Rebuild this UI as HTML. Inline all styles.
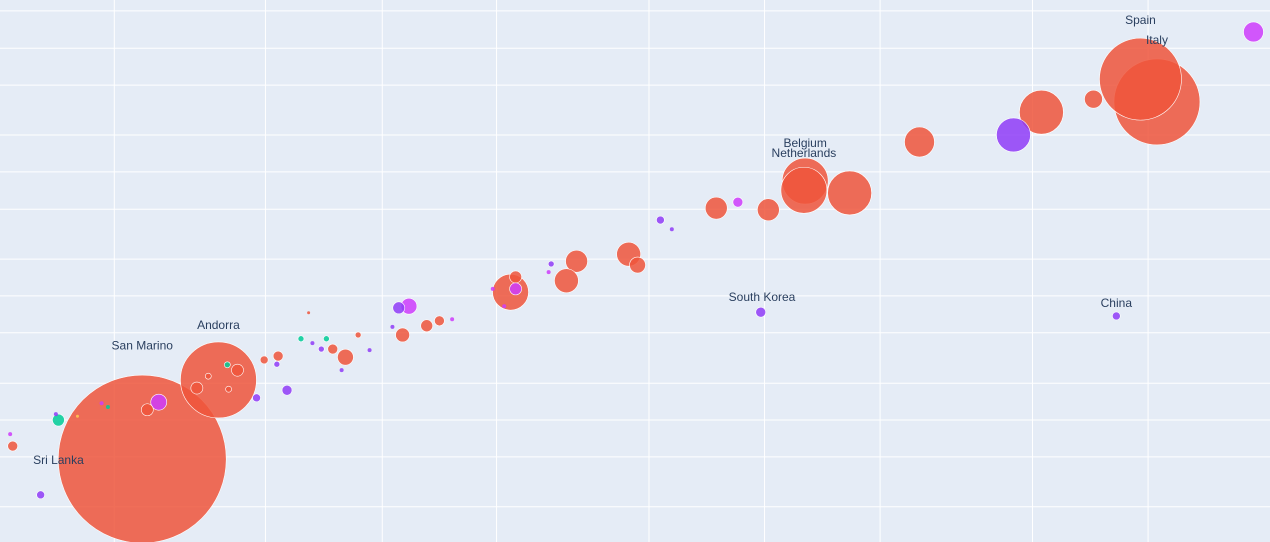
<!DOCTYPE html>
<html><head><meta charset="utf-8">
<style>
html,body{margin:0;padding:0;background:#e5ecf6;overflow:hidden}
svg{display:block}
text{font-family:"Liberation Sans",sans-serif;font-size:12px;fill:#2a3f5f}
</style></head>
<body>
<svg id="chart" width="1270" height="542" xmlns="http://www.w3.org/2000/svg">
<rect x="0" y="0" width="1270" height="542" fill="#e5ecf6"/>
<g id="grid"></g>
<g id="marks"></g>
<g id="labels"></g>
</svg>
<script>
// data on a 0-100 horizontal scale and 0-100 vertical scale
const xGrid = [9.0, 20.9, 30.1, 39.1, 51.1, 60.2, 69.3, 81.3, 90.4];
const yGrid = [2.0, 8.9, 15.7, 24.9, 31.7, 38.6, 47.8, 54.6, 61.4, 70.7, 77.5, 84.3, 93.5];
const xs = [11.2,17.2,91.1,89.8,63.4,63.3,66.9,82.0,72.4,79.8,86.1,98.7,40.2,45.4,44.6,49.5,50.2,56.4,60.5,40.6,40.6,58.1,52.0,52.9,59.9,87.9,32.2,31.4,31.7,33.6,34.6,27.2,26.2,28.2,21.9,20.8,21.8,22.6,20.2,18.7,17.9,15.5,18.0,16.4,12.5,11.6,4.6,1.0,3.2,0.8,4.4,8.0,8.5,23.7,25.7,24.6,25.3,26.9,29.1,30.9,35.6,39.7,43.2,43.4,38.8,24.3,6.1];
const ys = [84.7,70.1,18.8,14.6,33.4,35.1,35.6,20.7,26.2,24.9,18.3,5.9,53.9,48.2,51.8,46.9,48.9,38.4,38.7,51.1,53.3,37.3,40.6,42.3,57.6,58.3,56.5,56.8,61.8,60.1,59.2,65.9,64.4,61.8,65.7,66.4,67.2,72.0,73.4,68.3,67.3,71.6,71.8,69.4,74.2,75.6,77.5,82.3,91.3,80.1,76.4,74.4,75.1,62.5,62.5,63.3,64.4,68.3,64.6,60.3,58.9,56.5,50.2,48.7,53.3,57.7,76.8];
const sizes = [84,38,43,41,23,23,22,22,15,17,9,10,18,11,12,12,8,11,11,6,6,5,4,2,5,4,8,6,7,6,5,8,5,3,5,4,3,5,4,6,3,6,3,3,8,6,6,5,4,2,2,2,2,3,3,2,3,2,2,2,2,2,2,3,2,1.5,1.5];
const groups = ["r","r","r","r","r","r","r","r","r","p","r","m","r","r","r","r","r","r","r","r","m","m","p","p","p","p","m","p","r","r","r","r","r","r","r","r","p","p","p","r","g","r","r","r","m","r","g","r","p","m","p","m","g","g","g","p","p","p","p","p","m","m","m","p","m","r","y"];
const labelNames = ["Spain","Italy","Belgium","Netherlands","South Korea","China","Andorra","San Marino","Sri Lanka"];
const labelX = [89.8,91.1,63.4,63.3,60.0,87.9,17.2,11.2,4.6];
const labelY = [3.7,7.4,26.4,28.2,54.8,55.9,60.0,63.7,84.9];

const W=1270,H=542;
const sx=v=>v*W/100, sy=v=>v*H/100;
const col={r:"#EF553B",p:"#8F3CF7",m:"#CE3CFB",g:"#00CC96",y:"#FECB52"};
const NS="http://www.w3.org/2000/svg";
const grid=document.getElementById('grid'),marks=document.getElementById('marks'),labels=document.getElementById('labels');
xGrid.forEach(v=>{const l=document.createElementNS(NS,'line');


l.setAttribute('x1',sx(v));l.setAttribute('x2',sx(v));l.setAttribute('y1',0);l.setAttribute('y2',H);l.setAttribute('stroke','#fff');l.setAttribute('stroke-width',1);grid.appendChild(l);});
yGrid.forEach(v=>{const l=document.createElementNS(NS,'line');


l.setAttribute('y1',sy(v));l.setAttribute('y2',sy(v));l.setAttribute('x1',0);l.setAttribute('x2',W);l.setAttribute('stroke','#fff');l.setAttribute('stroke-width',1);grid.appendChild(l);});
xs.forEach((v,i)=>{const c=document.createElementNS(NS,'circle');


c.setAttribute('cx',sx(v));c.setAttribute('cy',sy(ys[i]));c.setAttribute('r',sizes[i]);
c.setAttribute('fill',col[groups[i]]);c.setAttribute('fill-opacity',0.85);
c.setAttribute('stroke','#fff');c.setAttribute('stroke-width',sizes[i]>2?0.6:0);marks.appendChild(c);});
labelNames.forEach((n,i)=>{const t=document.createElementNS(NS,'text');


t.setAttribute('x',sx(labelX[i]));t.setAttribute('y',sy(labelY[i])+4);t.setAttribute('text-anchor','middle');t.textContent=n;labels.appendChild(t);});
</script>
</body></html>
